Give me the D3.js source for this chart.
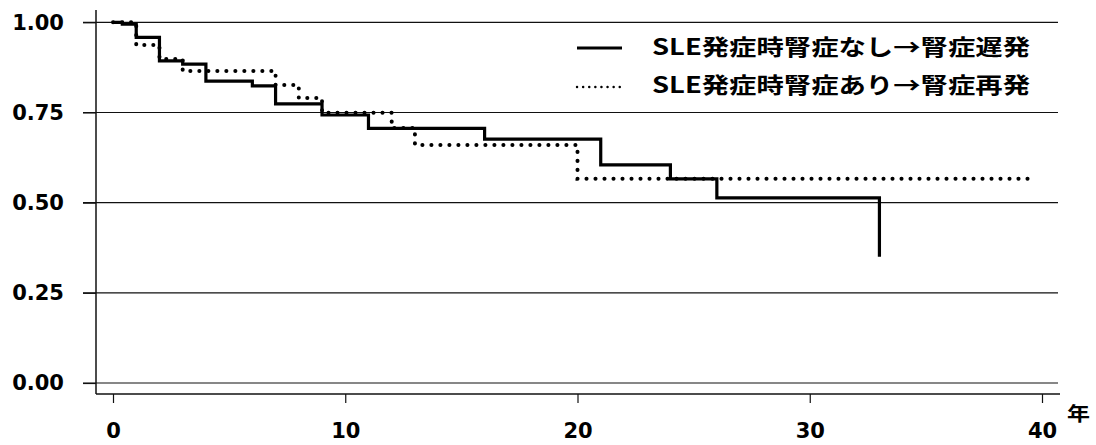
<!DOCTYPE html>
<html>
<head>
<meta charset="utf-8">
<script src="https://cdn.jsdelivr.net/npm/d3@7"></script>
<style>
  body { margin: 0; background: #fff; }
  svg { display: block; }
</style>
</head>
<body>
<div id="chart"></div>
<script>
  // Kaplan-Meier style steps (years, survival)
  const lateTimes = [0, 0.4, 1, 2, 3, 4, 6, 7, 9, 11, 16, 21, 24, 26, 33];
  const lateSurv  = [1.00, 0.995, 0.958, 0.893, 0.884, 0.837, 0.824, 0.774, 0.743, 0.706, 0.676, 0.605, 0.566, 0.513, 0.350];
  const relapseTimes = [0, 1, 2, 3, 7, 8, 9, 12, 13, 20, 39.7];
  const relapseSurv  = [1.00, 0.937, 0.898, 0.865, 0.826, 0.790, 0.749, 0.707, 0.660, 0.566, 0.566];

  const seriesNames = ["SLE発症時腎症なし→腎症遅発", "SLE発症時腎症あり→腎症再発"];
  const yTicks = [0, 0.25, 0.5, 0.75, 1];
  const xTicks = [0, 10, 20, 30, 40];
  const xUnit = "年";

  const width = 1096, height = 445;
  const svg = d3.select("#chart").append("svg")
      .attr("width", width)
      .attr("height", height);

  const x = d3.scaleLinear().domain([0, 40]).range([113, 1042]);
  const y = d3.scaleLinear().domain([0, 1]).range([383, 22.3]);

  const axisX0 = 96, axisY0 = 394;
  const tickFont = "'DejaVu Sans', sans-serif";
  const cjkFont = "'Noto Sans CJK JP', sans-serif";

  // horizontal reference lines
  svg.append("g")
    .selectAll("line")
    .data(yTicks)
    .join("line")
      .attr("x1", 83)
      .attr("x2", 1058)
      .attr("y1", d => y(d))
      .attr("y2", d => y(d))
      .attr("stroke", "#111")
      .attr("stroke-width", 1.2);

  // y axis
  const gy = svg.append("g")
      .attr("transform", `translate(${axisX0},0)`)
      .call(d3.axisLeft(y).tickValues(yTicks).tickSize(13).tickPadding(19)
            .tickFormat(d3.format(".2f")));
  gy.select(".domain").remove();
  gy.selectAll(".tick line").attr("stroke", "#111").attr("stroke-width", 1.2);
  gy.selectAll("text")
      .attr("font-family", tickFont)
      .attr("font-weight", "bold")
      .attr("font-size", 21)
      .attr("fill", "#000");

  // x axis
  const gx = svg.append("g")
      .attr("transform", `translate(0,${axisY0})`)
      .call(d3.axisBottom(x).tickValues(xTicks).tickSize(9).tickPadding(20));
  gx.select(".domain").remove();
  gx.selectAll(".tick line").attr("stroke", "#111").attr("stroke-width", 1.2);
  gx.selectAll("text")
      .attr("font-family", tickFont)
      .attr("font-weight", "bold")
      .attr("font-size", 21)
      .attr("fill", "#000");

  // axis lines
  svg.append("line")
      .attr("x1", axisX0).attr("x2", axisX0)
      .attr("y1", 10).attr("y2", axisY0)
      .attr("stroke", "#111").attr("stroke-width", 1.5);
  svg.append("line")
      .attr("x1", axisX0).attr("x2", 1060)
      .attr("y1", axisY0).attr("y2", axisY0)
      .attr("stroke", "#111").attr("stroke-width", 1.5);

  svg.append("text")
      .attr("x", 1067)
      .attr("y", 421)
      .attr("font-family", cjkFont)
      .attr("font-weight", "bold")
      .attr("font-size", 19)
      .attr("textLength", 23)
      .attr("lengthAdjust", "spacingAndGlyphs")
      .text(xUnit);

  // step curves
  const step = d3.line()
      .x(d => x(d[0]))
      .y(d => y(d[1]))
      .curve(d3.curveStepAfter);

  const late = d3.zip(lateTimes, lateSurv);
  const relapse = d3.zip(relapseTimes, relapseSurv);

  svg.append("path")
      .attr("d", step(relapse))
      .attr("fill", "none")
      .attr("stroke", "#000")
      .attr("stroke-width", 4)
      .attr("stroke-linecap", "round")
      .attr("stroke-dasharray", "0.1 8.9");

  svg.append("path")
      .attr("d", step(late))
      .attr("fill", "none")
      .attr("stroke", "#000")
      .attr("stroke-width", 3.2)
      .attr("stroke-linejoin", "miter");

  // legend
  const legend = svg.append("g");
  const rows = [
    { name: seriesNames[0], dash: null, y: 48, base: 55 },
    { name: seriesNames[1], dash: "0.1 6", y: 87, base: 93 }
  ];
  rows.forEach(r => {
    legend.append("line")
        .attr("x1", 577).attr("x2", 622)
        .attr("y1", r.y).attr("y2", r.y)
        .attr("stroke", "#000")
        .attr("stroke-width", r.dash ? 2.4 : 2.8)
        .attr("stroke-linecap", r.dash ? "round" : "butt")
        .attr("stroke-dasharray", r.dash);
    legend.append("text")
        .attr("x", 652)
        .attr("y", r.base)
        .attr("font-family", cjkFont)
        .attr("font-weight", "bold")
        .attr("font-size", 22)
        .attr("textLength", 378)
        .attr("lengthAdjust", "spacingAndGlyphs")
        .text(r.name);
  });
</script>
</body>
</html>
